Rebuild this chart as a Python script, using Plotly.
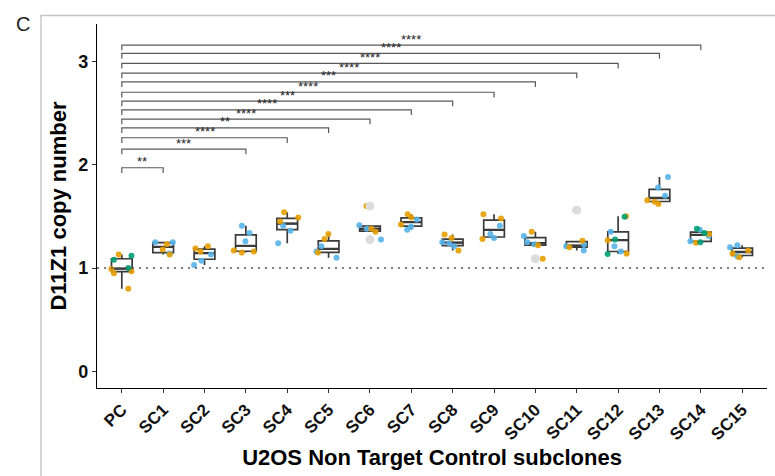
import numpy as np
import plotly.graph_objects as go

# ---------------------------------------------------------------- data
categories = ["PC", "SC1", "SC2", "SC3", "SC4", "SC5", "SC6", "SC7",
              "SC8", "SC9", "SC10", "SC11", "SC12", "SC13", "SC14", "SC15"]

# D11Z1 copy number per replicate (one list per subclone, same order as categories)
rep_blue = [
    [], [1.25, 1.25, 1.14], [1.13, 1.07, 1.03], [1.41, 1.34, 1.26],
    [1.41, 1.36, 1.24], [1.21, 1.16, 1.10], [1.415, 1.38, 1.275], [1.47, 1.40, 1.37],
    [1.25, 1.24, 1.21], [1.41, 1.33, 1.29], [1.31, 1.25, 1.23], [1.225, 1.21, 1.17],
    [1.35, 1.21, 1.16], [1.88, 1.78, 1.70], [1.37, 1.31, 1.26], [1.22, 1.20, 1.115],
]
rep_orange = [
    [1.13, 0.99, 0.97, 0.95, 0.80], [1.23, 1.18, 1.13], [1.21, 1.19, 1.16], [1.17, 1.16, 1.15],
    [1.54, 1.49, 1.45], [1.33, 1.28, 1.15], [1.60, 1.38, 1.35], [1.52, 1.49, 1.42],
    [1.325, 1.29, 1.17], [1.52, 1.48, 1.28], [1.35, 1.22, 1.09], [1.56, 1.265, 1.20],
    [1.50, 1.27, 1.14], [1.655, 1.64, 1.62], [1.33, 1.245], [1.17, 1.14, 1.105],
]
rep_green = [
    [1.12, 1.08, 1.00], [], [], [], [], [], [], [], [], [], [], [],
    [1.495, 1.275, 1.135], [], [1.38, 1.34, 1.25], [],
]

# pairwise comparisons against the parental clone (PC)
compared = ["SC1", "SC3", "SC4", "SC5", "SC6", "SC7", "SC8",
            "SC9", "SC10", "SC11", "SC12", "SC13", "SC14"]
signif_labels = ["**", "***", "****", "**", "****", "****", "***",
                 "****", "***", "****", "****", "****", "****"]
bracket_y = [1.97, 2.15, 2.26, 2.355, 2.44, 2.53, 2.615,
             2.70, 2.80, 2.885, 2.98, 3.075, 3.155]

reference_level = 1.0
y_ticks = [0, 1, 2, 3]

# ---------------------------------------------------------------- styling
FONT = "Liberation Sans"
COL_BLUE, COL_ORANGE, COL_GREEN = "#56B4E9", "#E69F00", "#009E73"
BOX_LINE = "#3a3a3a"
TIP = 0.05

# ---------------------------------------------------------------- box statistics (type-7 quantiles, 1.5 IQR whiskers)
all_vals = [sorted(b + o + g) for b, o, g in zip(rep_blue, rep_orange, rep_green)]
q1, med, q3, lo, hi, out_x, out_y = [], [], [], [], [], [], []
for cat, v in zip(categories, all_vals):
    a = np.array(v)
    p25, p50, p75 = np.percentile(a, [25, 50, 75])
    iqr = p75 - p25
    inside = a[(a >= p25 - 1.5 * iqr) & (a <= p75 + 1.5 * iqr)]
    q1.append(p25); med.append(p50); q3.append(p75)
    lo.append(inside.min()); hi.append(inside.max())
    for val in a[(a < p25 - 1.5 * iqr) | (a > p75 + 1.5 * iqr)]:
        out_x.append(cat); out_y.append(float(val))

fig = go.Figure()

# boxes
fig.add_trace(go.Box(
    x=categories, q1=q1, median=med, q3=q3, lowerfence=lo, upperfence=hi,
    width=0.5, whiskerwidth=0, fillcolor="white",
    line=dict(color=BOX_LINE, width=1.7), boxpoints=False, showlegend=False,
))
# heavier median bar
fig.add_trace(go.Box(
    x=categories, q1=med, median=med, q3=med, lowerfence=med, upperfence=med,
    width=0.5, whiskerwidth=0, fillcolor="rgba(0,0,0,0)",
    line=dict(color=BOX_LINE, width=2.3), boxpoints=False, showlegend=False,
))
# outliers at box centre
fig.add_trace(go.Scatter(
    x=out_x, y=out_y, mode="markers",
    marker=dict(color="#dcdcdc", size=9), showlegend=False,
))

# jittered replicate points
for reps, col in [(rep_blue, COL_BLUE), (rep_orange, COL_ORANGE), (rep_green, COL_GREEN)]:
    xs = [c for c, r in zip(categories, reps) for _ in r]
    ys = [val for r in reps for val in r]
    fig.add_trace(go.Box(
        x=xs, y=ys, boxpoints="all", jitter=1, pointpos=0, width=0.6,
        fillcolor="rgba(0,0,0,0)", line=dict(color="rgba(0,0,0,0)", width=0),
        marker=dict(color=col, size=6, opacity=0.9), hoveron="points",
        showlegend=False,
    ))

# significance brackets
for cat, lab, yb in zip(compared, signif_labels, bracket_y):
    fig.add_trace(go.Scatter(
        x=["PC", "PC", cat, cat], y=[yb - TIP, yb, yb, yb - TIP],
        mode="lines", line=dict(color="#5a5a5a", width=1.2),
        hoverinfo="skip", showlegend=False,
    ))
    mid = (categories.index("PC") + categories.index(cat)) / 2
    fig.add_annotation(
        x=mid, y=yb, text=lab, showarrow=False, yanchor="middle", yshift=6,
        font=dict(family=FONT, size=13, color="#222222"),
    )

# reference line at copy number 1
fig.add_shape(type="line", xref="paper", x0=0, x1=1, y0=reference_level, y1=reference_level,
              line=dict(color="#555555", width=1.4, dash="2px,5px"))

# panel frame and letter
W, H = 775, 476
ml, mr, mt, mb = 97, 8, 24, 88
pw, ph = W - ml - mr, H - mt - mb
fig.add_shape(type="rect", xref="paper", yref="paper",
              x0=(41 - ml) / pw, x1=1.5, y0=-1, y1=1 + (mt - 15.5) / ph,
              line=dict(color="#c4c4c4", width=1.4), layer="below")
fig.add_annotation(xref="paper", yref="paper", x=(23 - ml) / pw, y=1 - (24 - mt) / ph,
                   text="C", showarrow=False, xanchor="center", yanchor="middle",
                   font=dict(family=FONT, size=20, color="#222222"))

fig.update_layout(
    width=W, height=H, margin=dict(l=ml, r=mr, t=mt, b=mb),
    paper_bgcolor="white", plot_bgcolor="white", boxmode="overlay",
    font=dict(family=FONT, color="#111111"),
)
fig.update_xaxes(
    type="category", categoryorder="array", categoryarray=categories,
    range=[-0.6, len(categories) - 0.4], showline=True, linecolor="black", linewidth=1.3,
    ticks="outside", ticklen=4, tickcolor="#333333", tickwidth=1.2, tickangle=-45,
    tickfont=dict(family=FONT, size=17, weight="bold", color="#111111"),
    showgrid=False, zeroline=False,
    title=dict(text="U2OS Non Target Control subclones", standoff=6,
               font=dict(family=FONT, size=22, weight="bold", color="black")),
)
fig.update_yaxes(
    range=[-0.16, 3.36], tickvals=y_ticks, showline=True, linecolor="black", linewidth=1.3,
    ticks="outside", ticklen=4, tickcolor="#333333", tickwidth=1.2,
    tickfont=dict(family=FONT, size=18, weight="bold", color="#111111"),
    showgrid=False, zeroline=False,
    title=dict(text="D11Z1 copy number", standoff=5,
               font=dict(family=FONT, size=22, weight="bold", color="black")),
)

fig.write_html("out.html")
